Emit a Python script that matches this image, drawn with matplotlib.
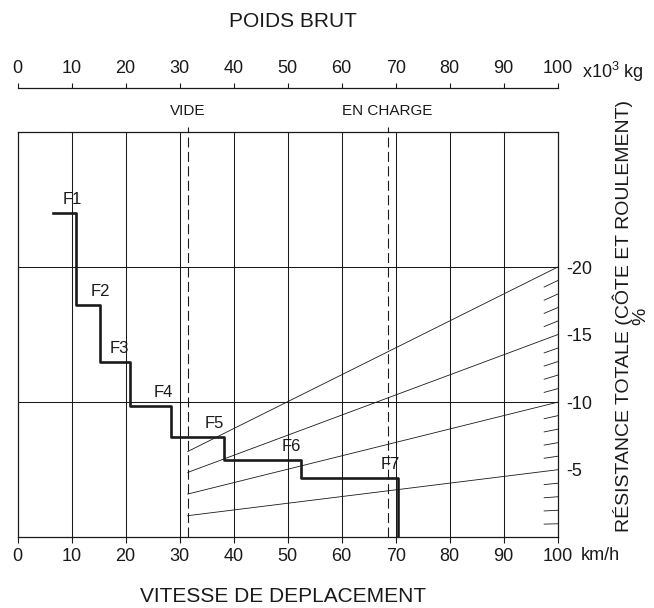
import numpy as np
import matplotlib
matplotlib.use('Agg')
import matplotlib.pyplot as plt

plt.rcParams['font.family'] = ['Liberation Sans', 'DejaVu Sans']
plt.rcParams['mathtext.fontset'] = 'custom'
plt.rcParams['mathtext.rm'] = 'Liberation Sans'
plt.rcParams['mathtext.default'] = 'regular'

# gear steps: speed where each gear ends (km/h) and its resistance level (%)
gears = ['F1', 'F2', 'F3', 'F4', 'F5', 'F6', 'F7']
start_speed = 6.6
gear_end_speed = [10.85, 15.3, 20.8, 28.4, 38.2, 52.4, 70.5]
gear_resistance = [24.0, 17.2, 13.0, 9.75, 7.4, 5.7, 4.4]

# weights (x10^3 kg)
empty_weight = 31.5
loaded_weight = 68.5

# total resistance rays (%), value at empty weight and at 100 t
grades = [5, 10, 15, 20]
grade_at_empty = [1.6, 3.2, 4.8, 6.35]
minor_grades = [1, 2, 3, 4, 6, 7, 8, 9, 11, 12, 13, 14, 16, 17, 18, 19]

ticks = [0, 10, 20, 30, 40, 50, 60, 70, 80, 90, 100]

ink = '#1a1a1a'
fig = plt.figure(figsize=(6.54, 6.08), dpi=100)
ax = fig.add_axes([0.0269, 0.1163, 0.8258, 0.6666])
ax.set_xlim(0, 100)
ax.set_ylim(0, 30)

# grid
for t in ticks[1:-1]:
    ax.axvline(t, color=ink, lw=0.75)
for g in [10, 20]:
    ax.axhline(g, color=ink, lw=0.75)

# empty / loaded weight markers
for w in [empty_weight, loaded_weight]:
    ax.plot([w, w], [0, 30.4], color=ink, lw=0.8, dashes=(9, 4), clip_on=False)
ax.text(empty_weight, 31.55, 'VIDE', ha='center', va='center', fontsize=11, color=ink)
ax.text(loaded_weight, 31.55, 'EN CHARGE', ha='center', va='center', fontsize=11, color=ink)

# resistance rays
for g, g0 in zip(grades, grade_at_empty):
    ax.plot([empty_weight, 100], [g0, g], color=ink, lw=0.6)
for k in minor_grades:
    ax.plot([97.5, 100], [k * 0.975, k], color=ink, lw=0.6)

# gear steps
xs = [start_speed] + gear_end_speed
ys = gear_resistance + [0]
ax.step(xs, ys, where='post', color=ink, lw=1.9)

label_dx = [-0.8, 0.0, -1.9, -1.5, -1.7, -1.7, -1.5]
for name, xe, r, dx in zip(gears, gear_end_speed, gear_resistance, label_dx):
    ax.text(xe + dx, r + 1.0, name, ha='center', va='center', fontsize=12, color=ink)

for s in ax.spines.values():
    s.set_color(ink)
    s.set_linewidth(0.9)

ax.set_xticks(ticks)
ax.tick_params(axis='x', direction='out', length=4.5, width=0.8, pad=3.5,
               labelsize=13, colors=ink)
ax.yaxis.tick_right()
ax.set_yticks(grades)
ax.set_yticklabels(['-5', '-10', '-15', '-20'])
ax.tick_params(axis='y', length=0, pad=6, labelsize=13, colors=ink)

# top weight scale
ax_top = fig.add_axes([0.0269, 0.8558, 0.8258, 0.0])
ax_top.set_xlim(0, 100)
for side in ['left', 'right', 'bottom']:
    ax_top.spines[side].set_visible(False)
ax_top.spines['top'].set_color(ink)
ax_top.spines['top'].set_linewidth(0.9)
ax_top.set_yticks([])
ax_top.xaxis.tick_top()
ax_top.set_xticks(ticks)
ax_top.tick_params(axis='x', direction='out', length=3.5, width=0.8, pad=4,
                   labelsize=13, colors=ink)

fig.text(582 / 654, 1 - 72 / 608, r'x10$^{3}$ kg', ha='left', va='center', fontsize=13, color=ink)
fig.text(581 / 654, 1 - 555 / 608, 'km/h', ha='left', va='center', fontsize=13, color=ink)
fig.text(293 / 654, 1 - 21.5 / 608, 'POIDS BRUT', ha='center', va='center', fontsize=15, color=ink)
fig.text(283 / 654, 1 - 596 / 608, 'VITESSE DE DEPLACEMENT', ha='center', va='center',
         fontsize=15, color=ink)
fig.text(631 / 654, 1 - 316 / 608, 'RÉSISTANCE TOTALE (CÔTE ET ROULEMENT)\n%',
         rotation=90, ha='center', va='center', multialignment='center',
         fontsize=14, color=ink, linespacing=1.0)

fig.savefig('out.png', dpi=100)
